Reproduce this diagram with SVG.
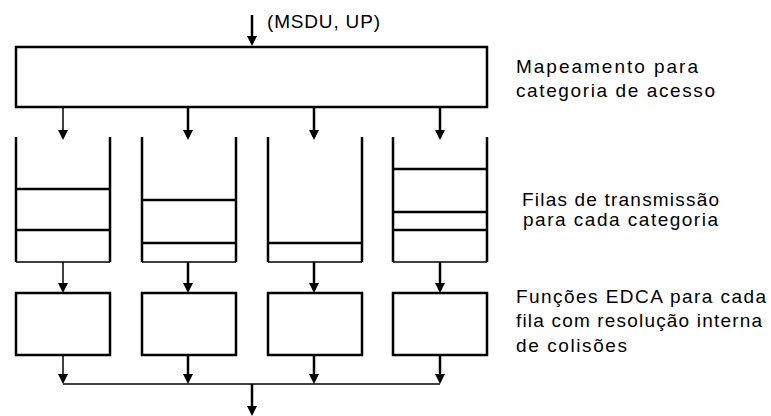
<svg xmlns="http://www.w3.org/2000/svg" width="771" height="416" viewBox="0 0 771 416">
<style>
.box{fill:#fff;stroke:#000;stroke-width:2.5}
.wall{fill:none;stroke:#000;stroke-width:2.5}
.shelf{fill:none;stroke:#000;stroke-width:2.5}
.floor{fill:none;stroke:#000;stroke-width:1.5}
.thin{fill:none;stroke:#000;stroke-width:1.5}
.thick{fill:none;stroke:#000;stroke-width:2.5}
.arr{marker-end:url(#ah)}
text{font-family:"Liberation Sans",Arial,sans-serif;font-size:19px;fill:#000}
</style>
<defs>
<marker id="ah" viewBox="0 0 10 10" refX="7" refY="5" markerWidth="10" markerHeight="10" markerUnits="userSpaceOnUse" orient="auto">
<path d="M0,0 L10,5 L0,10 z" fill="#000"/>
</marker>
</defs>

<g id="mapping">
<rect class="box" x="16" y="47" width="471" height="60"/>
<text x="516" y="73" textLength="182" lengthAdjust="spacing">Mapeamento para</text>
<text x="516" y="97" textLength="199" lengthAdjust="spacing">categoria de acesso</text>
</g>

<g id="input-label">
<text x="267" y="28" textLength="113" lengthAdjust="spacing">(MSDU, UP)</text>
</g>

<g id="queue1">
<path class="wall" d="M16,137 V262 M110,137 V262"/>
<path class="floor" d="M16,262 H110"/>
<path class="shelf" d="M16,189 H110 M16,230 H110"/>
</g>
<g id="queue2">
<path class="wall" d="M142,137 V262 M236,137 V262"/>
<path class="floor" d="M142,262 H236"/>
<path class="shelf" d="M142,200 H236 M142,243 H236"/>
</g>
<g id="queue3">
<path class="wall" d="M268,137 V262 M362,137 V262"/>
<path class="floor" d="M268,262 H362"/>
<path class="shelf" d="M268,243 H362"/>
</g>
<g id="queue4">
<path class="wall" d="M393,137 V262 M487,137 V262"/>
<path class="floor" d="M393,262 H487"/>
<path class="shelf" d="M393,169 H487 M393,212 H487 M393,230 H487"/>
</g>
<g id="queues-label">
<text x="522" y="206" textLength="197" lengthAdjust="spacing">Filas de transmissão</text>
<text x="523" y="226" textLength="195" lengthAdjust="spacing">para cada categoria</text>
</g>

<g id="edca1"><rect class="box" x="16" y="293" width="94" height="62"/></g>
<g id="edca2"><rect class="box" x="142" y="293" width="94" height="62"/></g>
<g id="edca3"><rect class="box" x="268" y="293" width="94" height="62"/></g>
<g id="edca4"><rect class="box" x="393" y="293" width="94" height="62"/></g>
<g id="edca-label">
<text x="516" y="303" textLength="250" lengthAdjust="spacing">Funções EDCA para cada</text>
<text x="516" y="327" textLength="246" lengthAdjust="spacing">fila com resolução interna</text>
<text x="516" y="352" textLength="111" lengthAdjust="spacing">de colisões</text>
</g>

<g id="connectors">
<path class="thick arr" d="M252,15 V43"/>
<path class="thin arr" d="M63,107 V137"/>
<path class="thick arr" d="M188,107 V137"/>
<path class="thick arr" d="M314,107 V137"/>
<path class="thick arr" d="M440,107 V137"/>
<path class="thin arr" d="M63,262 V290"/>
<path class="thick arr" d="M188,262 V290"/>
<path class="thick arr" d="M314,262 V290"/>
<path class="thick arr" d="M440,262 V290"/>
<path class="thin arr" d="M63,355 V381"/>
<path class="thick arr" d="M188,355 V381"/>
<path class="thick arr" d="M314,355 V381"/>
<path class="thick arr" d="M440,355 V381"/>
<path class="floor" d="M63,384 H440"/>
<path class="thick arr" d="M252,384 V413"/>
</g>
</svg>
